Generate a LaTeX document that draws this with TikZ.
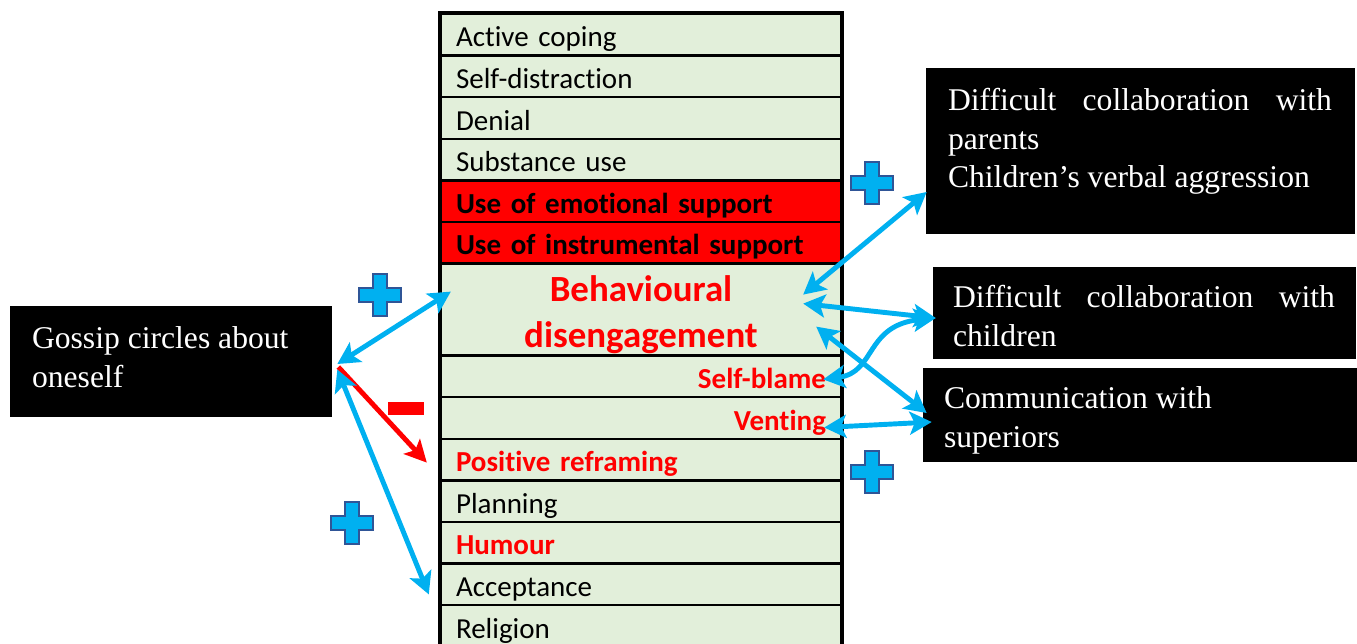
\documentclass[tikz,border=0pt]{standalone}
\usepackage{fontspec}
\setmainfont{Liberation Serif}
\newfontfamily\cellfont[Ligatures=NoCommon]{Carlito}
\usetikzlibrary{arrows.meta}

\definecolor{cellgreen}{RGB}{226,239,218}
\definecolor{linkblue}{RGB}{0,176,240}
\definecolor{plusblue}{RGB}{47,85,151}

\begin{document}
\begin{tikzpicture}[x=0.02cm, y=-0.02cm,
    tablecell/.style={rectangle, draw, line width=1.4pt, fill=cellgreen, minimum height=0.83cm,
      text width=7.4cm, inner xsep=0.3cm, inner ysep=0pt, align=left,
      font=\cellfont\fontsize{16.5}{19}\selectfont},
    tablerow/.style={tablecell, text height=0.48cm, text depth=0cm},
    supportrow/.style={tablerow, fill=red, font=\cellfont\bfseries\fontsize{16.5}{19}\selectfont},
    redtext/.style={tablerow, text=red, font=\cellfont\bfseries\fontsize{16.5}{19}\selectfont},
    blackbox/.style={rectangle, fill=black, inner sep=0pt},
    boxtext/.style={text=white, anchor=north west, inner sep=0pt, align=left,
      font=\fontsize{18}{22.1}\selectfont},
    bluelink/.style={draw=linkblue, line width=2.8pt,
      arrows={Stealth[length=4.4mm, width=4.6mm, inset=1mm]-Stealth[length=4.4mm, width=4.6mm, inset=1mm]}},
    redlink/.style={draw=red, line width=2.8pt, arrows={-Stealth[length=4.4mm, width=4.4mm, inset=1mm]}},
    plussign/.pic={\draw[line width=1.1pt, draw=plusblue, fill=linkblue]
      (-6.8,-21) -- (6.8,-21) -- (6.8,-6.8) -- (21,-6.8) -- (21,6.8) -- (6.8,6.8) -- (6.8,21)
      -- (-6.8,21) -- (-6.8,6.8) -- (-21,6.8) -- (-21,-6.8) -- (-6.8,-6.8) -- cycle;}]
  \useasboundingbox (0,0) rectangle (1357,643);

  % coping strategies column
  \foreach \name/\y/\txt in {active/34.8/Active coping, distraction/76.4/Self-distraction,
      denial/118/Denial, substance/159.6/Substance use, planning/501.2/Planning,
      acceptance/584.4/Acceptance, religion/626/Religion}
    \node[tablerow] (\name) at (641,\y) {\txt};
  \node[supportrow] (emotional) at (641,201.2) {Use of emotional support};
  \node[supportrow] (instrumental) at (641,242.8) {Use of instrumental support};
  \node[tablecell, align=center, text=red, minimum height=1.84cm,
    font=\cellfont\bfseries\fontsize{21}{26}\selectfont] (disengage) at (641,309.6)
    {\rule{0pt}{0.72cm}Behavioural\\disengagement};
  \node[redtext, align=right] (selfblame) at (641,376.4) {Self-blame};
  \node[redtext, align=right] (venting) at (641,418) {Venting};
  \node[redtext] (reframing) at (641,459.6) {Positive reframing};
  \node[redtext] (humour) at (641,542.8) {Humour};
  \draw[line width=1.8pt] (active.north west) rectangle (religion.south east);

  % stressors
  \node[blackbox, minimum width=6.44cm, minimum height=2.22cm] (gossip) at (171,361.5) {};
  \node[blackbox, minimum width=8.58cm, minimum height=3.32cm] (parents) at (1140.5,151) {};
  \node[blackbox, minimum width=8.46cm, minimum height=1.84cm] (children) at (1144.5,313) {};
  \node[blackbox, minimum width=8.68cm, minimum height=1.88cm] (superiors) at (1140,415) {};
  \node[boxtext] (gossip-text) at ([shift={(22,21)}]gossip.north west) {Gossip circles about\\oneself};
  \node[boxtext] (parents-text) at ([shift={(22,20)}]parents.north west)
    {\makebox[7.68cm][s]{Difficult collaboration with}\\parents\\Children’s verbal aggression};
  \node[boxtext] (children-text) at ([shift={(20,18)}]children.north west)
    {\makebox[7.64cm][s]{Difficult collaboration with}\\children};
  \node[boxtext] (superiors-text) at ([shift={(21,19)}]superiors.north west) {Communication with\\superiors};

  % links
  \draw[bluelink] ([shift={(5,2.5)}]gossip.east) -- ([shift={(11,-18)}]disengage.west);
  \draw[redlink] ([shift={(6,5.5)}]gossip.east) -- ([shift={(-13,3)}]reframing.west);
  \draw[bluelink] ([shift={(5,8)}]gossip.east) -- ([shift={(-11,10)}]acceptance.west);
  \draw[bluelink] ([shift={(1,41)}]parents.west) -- ([shift={(-39,-15)}]disengage.east);
  \draw[bluelink] ([shift={(-39,-6)}]disengage.east) -- ([shift={(3,5)}]children.west);
  \draw[bluelink] ([shift={(-19,3)}]selfblame.east) .. controls +(53,-7) and +(-71,7) .. ([shift={(3,5)}]children.west);
  \draw[bluelink] ([shift={(-26,17)}]disengage.east) -- ([shift={(4,-2)}]superiors.west);
  \draw[bluelink] ([shift={(-18,9.5)}]venting.east) -- ([shift={(9,7)}]superiors.west);

  % signs
  \foreach \plx/\ply in {380/295, 872/183, 872/472, 352/523}
    \pic at (\plx,\ply) {plussign};
  \node[rectangle, fill=red, inner sep=0pt, minimum width=0.72cm, minimum height=0.26cm] (minus) at (406,408.5) {};
\end{tikzpicture}
\end{document}
